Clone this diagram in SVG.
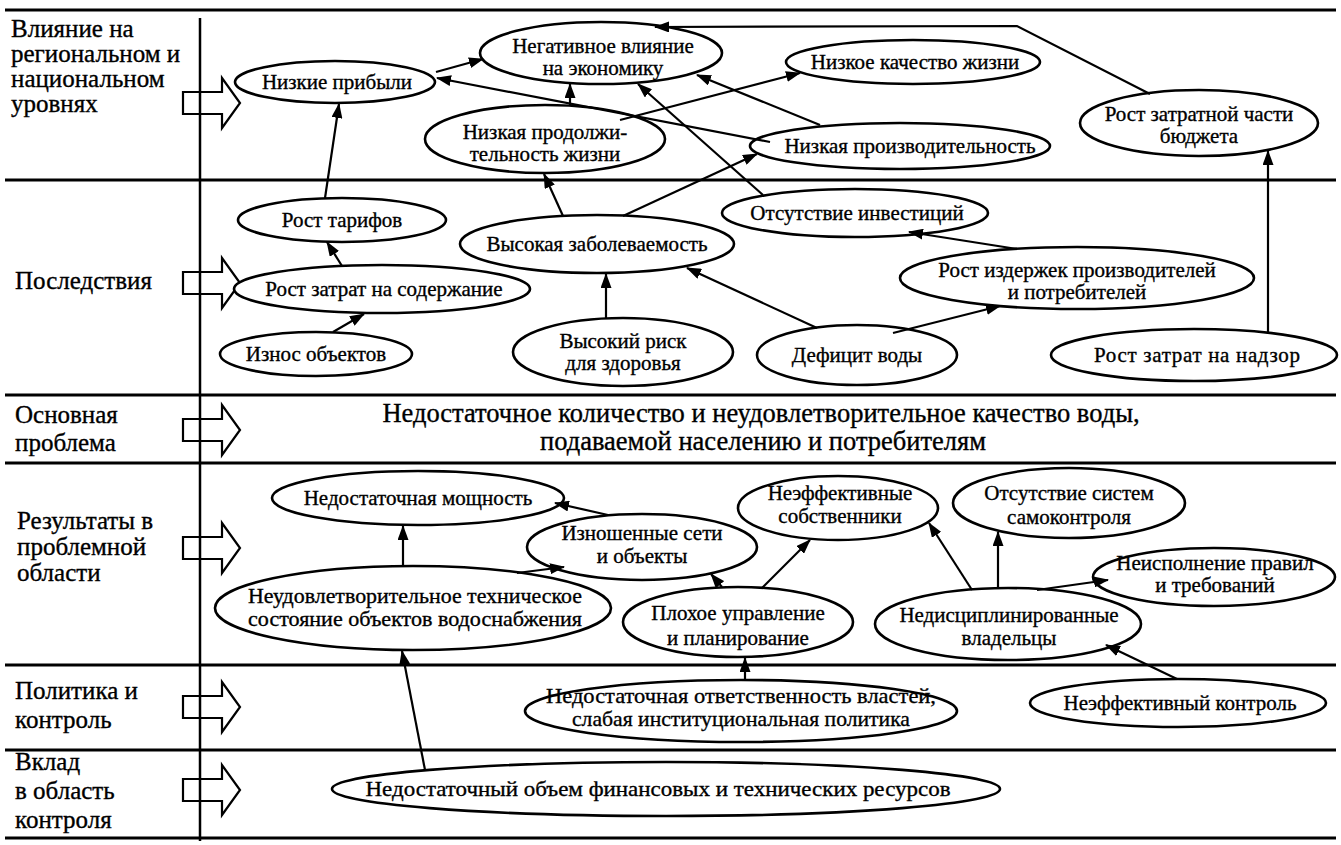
<svg xmlns="http://www.w3.org/2000/svg" width="1341" height="845" viewBox="0 0 1341 845">
<style>
.sep{stroke:#000;stroke-width:3;fill:none}
.lbl{font-family:"Liberation Serif","Times New Roman",serif;font-size:25px;fill:#000;stroke:#000;stroke-width:0.35}
.blk{fill:#fff;stroke:#000;stroke-width:2.2}
.nd ellipse{fill:#fff;stroke:#000;stroke-width:2.6}
.nd text{font-family:"Liberation Serif","Times New Roman",serif;font-size:21px;fill:#000;stroke:#000;stroke-width:0.35;text-anchor:middle}
.nd text.cn{font-size:22px}
.main{font-family:"Liberation Serif","Times New Roman",serif;font-size:26.5px;fill:#000;stroke:#000;stroke-width:0.35;text-anchor:middle}
.cx line,.cx polyline{stroke:#000;stroke-width:2.2;fill:none;marker-end:url(#ah)}
</style>
<defs>
<marker id="ah" markerUnits="userSpaceOnUse" markerWidth="15" markerHeight="11" refX="14" refY="5.5" orient="auto">
<path d="M0,0 L15,5.5 L0,11 z" fill="#000"/>
</marker>
</defs>
<rect width="1341" height="845" fill="#fff"/>

<g id="frame">
<line class="sep" x1="5" y1="10" x2="1336" y2="10"/>
<line class="sep" x1="5" y1="180" x2="1336" y2="180"/>
<line class="sep" x1="5" y1="395" x2="1336" y2="395"/>
<line class="sep" x1="5" y1="463" x2="1336" y2="463"/>
<line class="sep" x1="5" y1="665" x2="1336" y2="665"/>
<line class="sep" x1="5" y1="750" x2="1336" y2="750"/>
<line class="sep" x1="5" y1="838" x2="1336" y2="838"/>
</g>

<g id="row-labels">
<text class="lbl" x="11" y="37">Влияние на</text>
<text class="lbl" x="11" y="62">региональном и</text>
<text class="lbl" x="11" y="87">национальном</text>
<text class="lbl" x="11" y="112">уровнях</text>
<text class="lbl" x="15" y="289">Последствия</text>
<text class="lbl" x="15" y="423">Основная</text>
<text class="lbl" x="15" y="451">проблема</text>
<text class="lbl" x="17" y="529">Результаты в</text>
<text class="lbl" x="17" y="555">проблемной</text>
<text class="lbl" x="17" y="581">области</text>
<text class="lbl" x="15" y="699">Политика и</text>
<text class="lbl" x="15" y="728">контроль</text>
<text class="lbl" x="15" y="770">Вклад</text>
<text class="lbl" x="15" y="799">в область</text>
<text class="lbl" x="15" y="828">контроля</text>
</g>

<g id="block-arrows">
<polygon class="blk" points="183,92 222,92 222,78 240,103 222,128 222,114 183,114"/>
<polygon class="blk" points="183,272 222,272 222,258 240,283 222,308 222,294 183,294"/>
<polygon class="blk" points="183,419 222,419 222,405 240,430 222,455 222,441 183,441"/>
<polygon class="blk" points="183,537 222,537 222,523 240,548 222,573 222,559 183,559"/>
<polygon class="blk" points="183,696 222,696 222,682 240,707 222,732 222,718 183,718"/>
<polygon class="blk" points="183,779 222,779 222,765 240,790 222,815 222,801 183,801"/>
</g>
<line id="axis" x1="200" y1="18" x2="200" y2="841" stroke="#000" stroke-width="2.5"/>

<g id="main-problem">
<text class="main" x="761" y="422">Недостаточное количество и неудовлетворительное качество воды,</text>
<text class="main" x="763" y="450">подаваемой населению и потребителям</text>
</g>

<g id="n-low-profit" class="nd"><ellipse cx="335" cy="82" rx="100" ry="21"/><text x="337" y="89">Низкие прибыли</text></g>
<g id="n-neg-econ" class="nd"><ellipse cx="601" cy="53" rx="121" ry="31"/><text x="603" y="53">Негативное влияние</text><text x="603" y="75">на экономику</text></g>
<g id="n-low-quality" class="nd"><ellipse cx="913" cy="62" rx="127" ry="22"/><text x="915" y="69">Низкое качество жизни</text></g>
<g id="n-low-life" class="nd"><ellipse cx="545" cy="139" rx="120" ry="34"/><text x="545" y="139">Низкая продолжи-</text><text x="545" y="161">тельность жизни</text></g>
<g id="n-low-prod" class="nd"><ellipse cx="900" cy="146" rx="150" ry="23"/><text x="910" y="153">Низкая производительность</text></g>
<g id="n-budget" class="nd"><ellipse cx="1199" cy="123" rx="119" ry="33"/><text x="1199" y="121">Рост затратной части</text><text x="1199" y="143">бюджета</text></g>
<g id="n-tariffs" class="nd"><ellipse cx="342" cy="220" rx="104" ry="22"/><text x="342" y="227">Рост тарифов</text></g>
<g id="n-morbidity" class="nd"><ellipse cx="597" cy="244" rx="137" ry="29"/><text x="597" y="251">Высокая заболеваемость</text></g>
<g id="n-no-invest" class="nd"><ellipse cx="855" cy="213" rx="133" ry="24"/><text x="857" y="220">Отсутствие инвестиций</text></g>
<g id="n-maint" class="nd"><ellipse cx="382" cy="289" rx="148" ry="24"/><text x="384" y="296">Рост затрат на содержание</text></g>
<g id="n-costs" class="nd"><ellipse cx="1077" cy="278" rx="177" ry="31"/><text x="1077" y="277">Рост издержек производителей</text><text x="1077" y="299">и потребителей</text></g>
<g id="n-wear" class="nd"><ellipse cx="316" cy="354" rx="96" ry="22"/><text x="316" y="361">Износ объектов</text></g>
<g id="n-risk" class="nd"><ellipse cx="623" cy="352" rx="110" ry="34"/><text x="623" y="348">Высокий риск</text><text x="623" y="370">для здоровья</text></g>
<g id="n-deficit" class="nd"><ellipse cx="857" cy="355" rx="100" ry="30"/><text x="857" y="362">Дефицит воды</text></g>
<g id="n-supervision" class="nd"><ellipse cx="1194" cy="355" rx="143" ry="26"/><text x="1197" y="362" textLength="206" lengthAdjust="spacing">Рост затрат на надзор</text></g>
<g id="n-capacity" class="nd"><ellipse cx="418" cy="498" rx="146" ry="27"/><text x="418" y="505">Недостаточная мощность</text></g>
<g id="n-worn" class="nd"><ellipse cx="642" cy="547" rx="115" ry="33"/><text x="642" y="540">Изношенные сети</text><text x="642" y="563">и объекты</text></g>
<g id="n-owners" class="nd"><ellipse cx="838" cy="508" rx="100" ry="32"/><text x="840" y="500">Неэффективные</text><text x="840" y="523">собственники</text></g>
<g id="n-selfctrl" class="nd"><ellipse cx="1069" cy="503" rx="116" ry="35"/><text x="1069" y="500">Отсутствие систем</text><text x="1069" y="524">самоконтроля</text></g>
<g id="n-rules" class="nd"><ellipse cx="1214" cy="577" rx="121" ry="29"/><text x="1215" y="570">Неисполнение правил</text><text x="1215" y="592">и требований</text></g>
<g id="n-tech" class="nd"><ellipse cx="413" cy="608" rx="198" ry="42"/><text x="415" y="603" textLength="334" lengthAdjust="spacingAndGlyphs">Неудовлетворительное техническое</text><text x="415" y="626" textLength="334" lengthAdjust="spacingAndGlyphs">состояние объектов водоснабжения</text></g>
<g id="n-mgmt" class="nd"><ellipse cx="738" cy="622" rx="115" ry="35"/><text x="738" y="620">Плохое управление</text><text x="738" y="645">и планирование</text></g>
<g id="n-undisc" class="nd"><ellipse cx="1008" cy="624" rx="133" ry="36"/><text x="1009" y="622">Недисциплинированные</text><text x="1009" y="645">владельцы</text></g>
<g id="n-authority" class="nd"><ellipse cx="741" cy="711" rx="216" ry="31"/><text class="cn" x="741" y="703" textLength="390" lengthAdjust="spacingAndGlyphs">Недостаточная ответственность властей,</text><text class="cn" x="741" y="726" textLength="338" lengthAdjust="spacingAndGlyphs">слабая институциональная политика</text></g>
<g id="n-control" class="nd"><ellipse cx="1178" cy="703" rx="148" ry="24"/><text x="1180" y="710">Неэффективный контроль</text></g>
<g id="n-resources" class="nd"><ellipse cx="666" cy="789" rx="334" ry="27"/><text class="cn" x="658" y="796" textLength="585" lengthAdjust="spacingAndGlyphs">Недостаточный объем финансовых и технических ресурсов</text></g>

<g id="connectors" class="cx">
<line x1="325" y1="198" x2="339" y2="104"/>
<line x1="342" y1="266" x2="327" y2="242"/>
<line x1="333" y1="332" x2="364" y2="314"/>
<line x1="436" y1="72" x2="483" y2="59"/>
<line x1="770" y1="142" x2="437" y2="78"/>
<line x1="570" y1="106" x2="570" y2="84"/>
<line x1="620" y1="120" x2="800" y2="73"/>
<line x1="820" y1="125" x2="697" y2="75"/>
<line x1="763" y1="195" x2="638" y2="84"/>
<line x1="563" y1="216" x2="544" y2="174"/>
<line x1="623" y1="216" x2="757" y2="154"/>
<polyline points="1150,94 1017,26 655,27"/>
<line x1="1268" y1="334" x2="1268" y2="151"/>
<line x1="606" y1="318" x2="606" y2="274"/>
<line x1="817" y1="328" x2="687" y2="268"/>
<line x1="893" y1="333" x2="1000" y2="306"/>
<line x1="1017" y1="249" x2="909" y2="232"/>
<line x1="403" y1="566" x2="403" y2="526"/>
<line x1="608" y1="515" x2="555" y2="503"/>
<line x1="517" y1="573" x2="564" y2="567"/>
<line x1="722" y1="587" x2="711" y2="574"/>
<line x1="762" y1="588" x2="810" y2="540"/>
<line x1="972" y1="590" x2="929" y2="523"/>
<line x1="998" y1="588" x2="998" y2="532"/>
<line x1="1037" y1="590" x2="1108" y2="580"/>
<line x1="1177" y1="679" x2="1106" y2="645"/>
<line x1="745" y1="680" x2="745" y2="658"/>
<line x1="425" y1="770" x2="402" y2="651"/>
</g>
</svg>
